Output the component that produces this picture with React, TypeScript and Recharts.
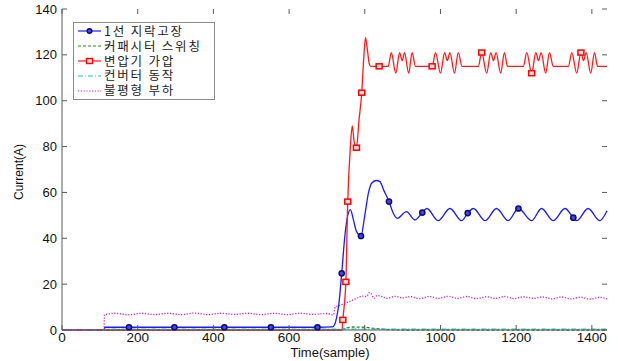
import { LineChart, Line, XAxis, YAxis, Legend } from 'recharts'

// [sample, current(A)]
const FAULT: [number, number][] = [
  [0, 0], [111, 0], [113, 1.2], [177, 1.2], [297, 1.2], [429, 1.2], [552, 1.2], [675, 1.2],
  [715, 1.4], [725, 5], [732, 12], [739, 24.7], [748, 42], [755, 50], [762, 52.5], [770, 48],
  [778, 43], [790, 41], [800, 50], [810, 60], [818, 64], [830, 65.2], [840, 64.7], [850, 61],
  [864, 56], [875, 51], [886, 48.7], [910, 51.6], [933, 48], [952, 51.2], [964, 53], [994, 47.7],
  [1025, 53], [1056, 47.7], [1072, 51], [1087, 53], [1118, 47.7], [1148, 53], [1179, 47.7],
  [1206, 53], [1241, 47.7], [1267, 53], [1298, 47.7], [1329, 53], [1351, 49], [1360, 47.7],
  [1390, 53], [1421, 47.7], [1440, 52],
]
const FAULT_MARKS = [177, 297, 429, 552, 675, 739, 790, 864, 952, 1072, 1206, 1351]

const CAP: [number, number][] = [
  [0, 0], [735, 0], [750, 0.8], [770, 1.3], [800, 1.2], [830, 0.6], [860, 0.2], [900, 0], [1440, 0],
]

const TRANS: [number, number][] = [
  [0, 0], [740, 0], [742, 4.4], [750, 21], [755, 56], [762, 80], [767, 89], [772, 82], [778, 79.5],
  [785, 92], [792, 103.5], [797, 118], [802, 127.5], [807, 122], [812, 116], [816, 115], [838, 115],
  [862, 115], [870, 121], [882, 112], [892, 121], [899, 117.5], [905, 121], [916, 112], [925, 121], [934, 115],
  [978, 115], [987, 121], [1000, 112], [1011, 121], [1018, 117.5], [1025, 121], [1037, 112], [1047, 121], [1057, 115],
  [1100, 115], [1109, 121], [1122, 112], [1133, 121], [1140, 117.5], [1147, 121], [1159, 112], [1169, 121], [1177, 115],
  [1219, 115], [1228, 121], [1241, 112], [1252, 121], [1259, 117.5], [1266, 121], [1278, 112], [1288, 121], [1298, 115],
  [1338, 115], [1347, 121], [1360, 112], [1371, 121], [1378, 117.5], [1385, 121], [1397, 112], [1407, 121], [1415, 115],
  [1440, 115],
]
const TRANS_MARKS = [742, 750, 755, 778, 792, 838, 978, 1109, 1241, 1371]

const CONV: [number, number][] = [[0, 0], [111, 0], [112, 0.4], [1440, 0.4]]

const UNBAL: [number, number][] = [
  [0, 0], [111, 0], [112, 6.6], [140, 7.3], [175, 6.6], [210, 7.3], [245, 6.7], [280, 7.3], [315, 6.7],
  [350, 7.4], [385, 6.7], [420, 7.3], [455, 6.8], [490, 7.3], [525, 6.7], [560, 7.3], [595, 6.7],
  [630, 7.3], [665, 6.8], [700, 7.2], [717, 6.6], [722, 10], [735, 10.8], [750, 11.8], [765, 12.8],
  [780, 14], [795, 14.8], [805, 14.6], [812, 16.3], [818, 15.6], [824, 13.8], [832, 15], [845, 14.6],
  [860, 13.8], [880, 14.7], [900, 14], [920, 14.6], [945, 13.7], [970, 14.6], [995, 13.8], [1020, 14.7],
  [1045, 13.8], [1070, 14.6], [1095, 13.7], [1120, 14.5], [1145, 13.8], [1170, 14.6], [1195, 13.7],
  [1220, 14.5], [1245, 13.8], [1270, 14.4], [1295, 13.6], [1320, 14.4], [1345, 13.6], [1370, 14.3],
  [1395, 13.5], [1420, 14.2], [1440, 13.6],
]

const X_TICKS = [0, 200, 400, 600, 800, 1000, 1200, 1400]
const Y_TICKS = [0, 20, 40, 60, 80, 100, 120, 140]

const LEGEND_NAMES = ['1선 지락고장', '커패시터 스위칭', '변압기 가압', '컨버터 동작', '불평형 부하']

const W = 618
const H = 361
const PLOT = { left: 62, top: 9, right: 607, bottom: 330 }
const AXIS = '#5a5a5a'
const FONT = '"Liberation Sans", Arial, sans-serif'

const toRows = (pts: [number, number][], marks: number[] = []) =>
  pts.map(([t, v]) => ({ t, v, m: marks.includes(t) }))

function XTick({ x, y, payload }: any) {
  return (
    <g>
      <line x1={x} x2={x} y1={PLOT.bottom} y2={PLOT.bottom - 5} stroke={AXIS} />
      <line x1={x} x2={x} y1={PLOT.top} y2={PLOT.top + 5} stroke={AXIS} />
      <text x={x} y={y} textAnchor="middle" fontSize={13.5} fill="#111" fontFamily={FONT}>
        {payload.value}
      </text>
    </g>
  )
}

function YTick({ x, y, payload }: any) {
  return (
    <g>
      <line x1={PLOT.left} x2={PLOT.left + 5} y1={y} y2={y} stroke={AXIS} />
      <line x1={PLOT.right - 5} x2={PLOT.right} y1={y} y2={y} stroke={AXIS} />
      <text x={x} y={y + 4.5} textAnchor="end" fontSize={13} fill="#111" fontFamily={FONT}>
        {payload.value}
      </text>
    </g>
  )
}

const circleDot = (props: any) => {
  const { cx, cy, payload, index } = props
  if (!payload.m) return <g key={index} />
  return <circle key={index} cx={cx} cy={cy} r={2.6} fill="#4a4ad8" stroke="#0a0a80" strokeWidth={1.5} />
}

const squareDot = (props: any) => {
  const { cx, cy, payload, index } = props
  if (!payload.m) return <g key={index} />
  return <rect key={index} x={cx - 3} y={cy - 2.5} width={6} height={5} fill="#ffe0e0" stroke="#ff0000" strokeWidth={1.5} />
}

const SERIES = [
  { name: LEGEND_NAMES[0], data: toRows(FAULT, FAULT_MARKS), color: '#1a1aff', dash: undefined, dot: circleDot, marker: 'o' },
  { name: LEGEND_NAMES[1], data: toRows(CAP), color: '#1e8a1e', dash: '3 2', dot: false, marker: '' },
  { name: LEGEND_NAMES[2], data: toRows(TRANS, TRANS_MARKS), color: '#ff1a1a', dash: undefined, dot: squareDot, marker: 's' },
  { name: LEGEND_NAMES[3], data: toRows(CONV), color: '#22c4c4', dash: '5 2 1 2', dot: false, marker: '' },
  { name: LEGEND_NAMES[4], data: toRows(UNBAL), color: '#d020d0', dash: '1.2 1.6', dot: false, marker: '' },
]

function LegendBox() {
  return (
    <div
      style={{
        border: '1px solid #8a8a8a',
        background: '#fff',
        padding: '1px 4px 1px 3px',
        width: 133,
        height: 74,
      }}
    >
      {SERIES.map((s) => (
        <div key={s.name} style={{ display: 'flex', alignItems: 'center', height: 14.8 }}>
          <svg width={26} height={14}>
            <line x1={1} x2={24} y1={7} y2={7} stroke={s.color} strokeWidth={1.2} strokeDasharray={s.dash} />
            {s.marker === 'o' && <circle cx={12.5} cy={7} r={2.3} fill="#4a4ad8" stroke="#0a0a80" strokeWidth={1.4} />}
            {s.marker === 's' && <rect x={9.5} y={4.5} width={6} height={5} fill="#ffe0e0" stroke="#ff0000" strokeWidth={1.4} />}
          </svg>
          <span
            style={{
              fontFamily: '"Noto Sans CJK KR", sans-serif',
              fontSize: 12.5,
              letterSpacing: 1.8,
              color: '#222',
              lineHeight: '14.8px',
              marginLeft: 1,
              whiteSpace: 'nowrap',
            }}
          >
            {s.name}
          </span>
        </div>
      ))}
    </div>
  )
}

export default function App() {
  return (
    <div style={{ width: W, height: H, background: '#fff', position: 'relative' }}>
      <style>{'body{margin:0}'}</style>
      <LineChart
        width={W}
        height={H}
        margin={{ top: PLOT.top, right: W - PLOT.right, bottom: 0, left: 0 }}
      >
        <XAxis
          dataKey="t"
          type="number"
          domain={[0, 1440]}
          ticks={X_TICKS}
          interval={0}
          height={H - PLOT.bottom}
          tickSize={0}
          tickMargin={12}
          tick={<XTick />}
          axisLine={{ stroke: AXIS }}
          label={{
            content: () => (
              <text x={330} y={357} textAnchor="middle" fontSize={13} fill="#111" fontFamily={FONT}>
                Time(sample)
              </text>
            ),
          }}
        />
        <XAxis
          xAxisId="top"
          orientation="top"
          type="number"
          domain={[0, 1440]}
          height={0}
          tick={false}
          tickLine={false}
          axisLine={{ stroke: AXIS }}
        />
        <YAxis
          type="number"
          domain={[0, 140]}
          ticks={Y_TICKS}
          interval={0}
          width={PLOT.left}
          tickSize={0}
          tickMargin={5}
          tick={<YTick />}
          axisLine={{ stroke: AXIS }}
          label={{
            content: () => (
              <text
                x={20}
                y={172}
                textAnchor="middle"
                fontSize={12}
                fill="#111"
                fontFamily={FONT}
                transform="rotate(-90 20 172)"
                dominantBaseline="middle"
              >
                Current(A)
              </text>
            ),
          }}
        />
        <YAxis
          yAxisId="right"
          orientation="right"
          type="number"
          domain={[0, 140]}
          width={0}
          tick={false}
          tickLine={false}
          axisLine={{ stroke: AXIS }}
        />
        <Legend
          layout="vertical"
          align="center"
          verticalAlign="middle"
          content={() => <LegendBox />}
          wrapperStyle={{ left: 73, top: 22, width: 'auto', height: 'auto' }}
        />
        {SERIES.map((s) => (
          <Line
            key={s.name}
            name={s.name}
            data={s.data}
            dataKey="v"
            type="monotone"
            stroke={s.color}
            strokeWidth={1.3}
            strokeDasharray={s.dash}
            dot={s.dot as any}
            activeDot={false}
            isAnimationActive={false}
          />
        ))}
      </LineChart>
    </div>
  )
}
